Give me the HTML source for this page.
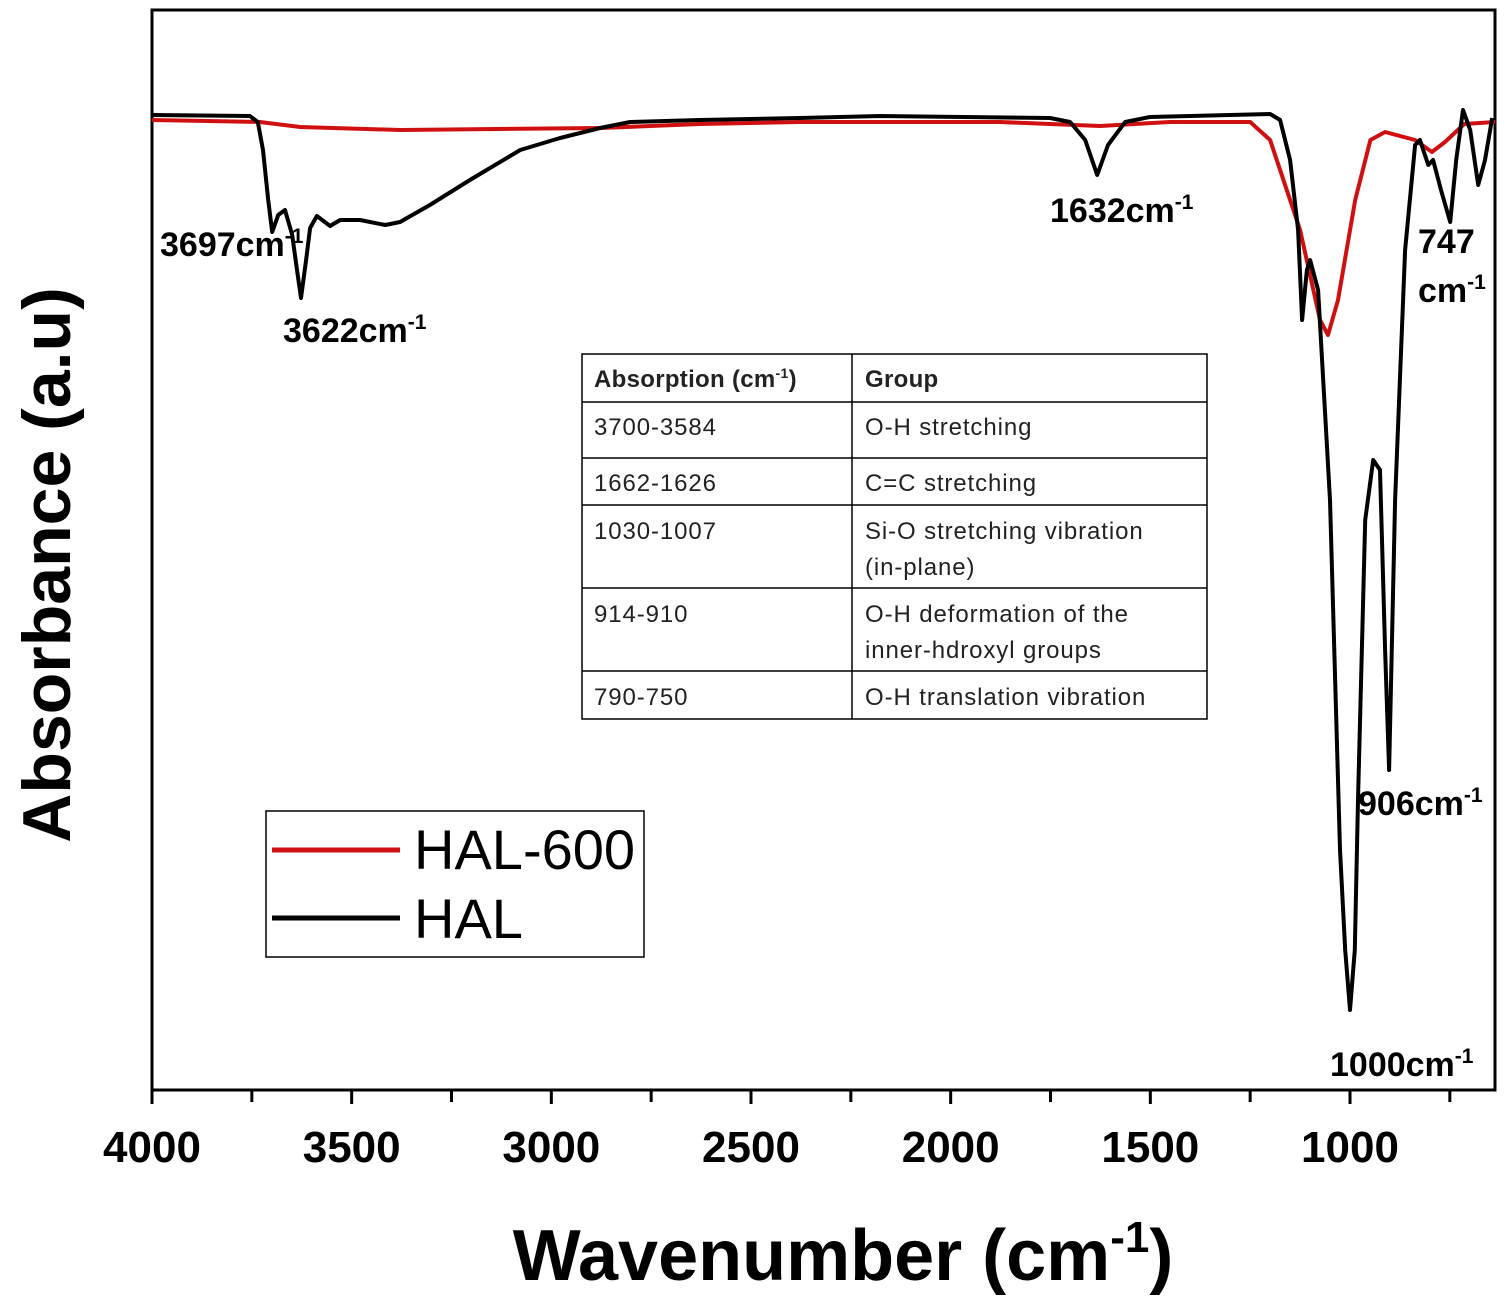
<!DOCTYPE html>
<html><head><meta charset="utf-8"><style>
body{margin:0;background:#fff;}
svg{display:block;font-family:"Liberation Sans",sans-serif;}
</style></head><body>
<svg id="chart" width="1508" height="1310" viewBox="0 0 1508 1310">
<g id="plot"></g>
</svg>
<script>
// Data (absorbance in arbitrary units)
const halWn = [4000,3755,3735,3722,3709,3699,3684,3667,3649,3637,3627,3614,3604,3587,3554,3529,3479,3416,3379,3304,3204,3078,2978,2878,2803,2628,2377,2177,1751,1701,1663,1633,1606,1563,1501,1200,1175,1150,1130,1120,1108,1100,1080,1050,1025,1012,1000,988,980,962,942,925,912,902,887,862,837,825,804,792,772,749,734,717,699,679,662,644];
const halAbs = [975,974,968,940,890,858,875,880,855,820,792,830,862,874,864,870,870,865,868,885,910,940,952,962,968,970,972,974,972,968,950,915,945,968,973,976,970,930,860,770,820,830,800,590,240,140,80,140,290,570,630,620,440,320,590,840,945,950,925,930,900,868,930,980,960,905,930,972];
const h600Wn = [4000,3730,3629,3379,2878,2628,2377,1877,1626,1450,1250,1200,1125,1075,1055,1030,987,949,912,837,795,762,714,637];
const h600Abs = [970,968,963,960,962,966,968,968,964,968,968,950,860,770,755,790,890,950,958,950,938,948,966,968];
const xTicks = [4000,3500,3000,2500,2000,1500,1000];
const minorTicks = [3750,3250,2750,2250,1750,1250,750];

const X0=152,X1=1495,Y0=1090,Y1=10;
const xs = w => X0 + (4000-w)*(1350-152)/3000;
const ys = v => Y0 - v*(Y0-Y1)/1080;
const NS="http://www.w3.org/2000/svg";
const g=document.getElementById('plot');
function mk(t,a,p){const e=document.createElementNS(NS,t);for(const k in a)e.setAttribute(k,a[k]);(p||g).appendChild(e);return e;}

const frame=mk('rect',{x:X0,y:Y1,width:X1-X0,height:Y0-Y1,fill:'none',stroke:'#000','stroke-width':3});



xTicks.forEach(t=>{
  const l=mk('line',{x1:xs(t),x2:xs(t),y1:Y0,y2:Y0+14,stroke:'#000','stroke-width':3});
  
  
  const tx=mk('text',{x:xs(t),y:1162,'text-anchor':'middle','font-size':44,'font-weight':'bold'});
  tx.textContent=t;
  
  
});
minorTicks.forEach(t=>{
  const l=mk('line',{x1:xs(t),x2:xs(t),y1:Y0,y2:Y0+12,stroke:'#000','stroke-width':3});
  
  
});

function line(wn,ab,col,name){
  const d=wn.map((w,i)=>(i?'L':'M')+xs(w).toFixed(1)+','+ys(ab[i]).toFixed(1)).join('');
  const p=mk('path',{d:d,fill:'none',stroke:col,'stroke-width':4,'stroke-linejoin':'round'});
  
  
}
line(h600Wn,h600Abs,'#d01010','hal-600-line');
line(halWn,halAbs,'#000','hal-line');
</script>
<svg width="1508" height="1310" style="position:absolute;left:0;top:0">
<g font-family="Liberation Sans, sans-serif" font-weight="bold" font-size="34" fill="#000">
<text x="160" y="256">3697cm<tspan font-size="21" dy="-13">-1</tspan></text>
<text x="283" y="342">3622cm<tspan font-size="21" dy="-13">-1</tspan></text>
<text x="1050" y="222">1632cm<tspan font-size="21" dy="-13">-1</tspan></text>
<text x="1418" y="253">747</text>
<text x="1418" y="302">cm<tspan font-size="21" dy="-13">-1</tspan></text>
<text x="1358" y="815">906cm<tspan font-size="21" dy="-13">-1</tspan></text>
<text x="1330" y="1076">1000cm<tspan font-size="21" dy="-13">-1</tspan></text>
<text x="843" y="1280" text-anchor="middle" font-size="72">Wavenumber (cm<tspan font-size="44" dy="-28">-1</tspan><tspan dy="28">)</tspan></text>
<text transform="translate(70,565) rotate(-90)" text-anchor="middle" font-size="68">Absorbance (a.u)</text>
</g>
<g>
<rect x="266" y="811" width="378" height="146" fill="#fff" stroke="#000" stroke-width="1.5"/>
<line x1="272" y1="850" x2="400" y2="850" stroke="#d01010" stroke-width="5"/>
<line x1="272" y1="918" x2="400" y2="918" stroke="#000" stroke-width="5"/>
<text x="414" y="869" font-family="Liberation Sans, sans-serif" font-size="56">HAL-600</text>
<text x="414" y="938" font-family="Liberation Sans, sans-serif" font-size="56">HAL</text>
</g>
<g font-family="Liberation Sans, sans-serif" font-size="24" letter-spacing="0.9" fill="#222" stroke-width="1.5">
<rect x="582" y="354" width="625" height="365" fill="#fff" stroke="#000"/>
<line x1="852" y1="354" x2="852" y2="719" stroke="#000"/>
<line x1="582" y1="402" x2="1207" y2="402" stroke="#000"/>
<line x1="582" y1="458" x2="1207" y2="458" stroke="#000"/>
<line x1="582" y1="505" x2="1207" y2="505" stroke="#000"/>
<line x1="582" y1="588" x2="1207" y2="588" stroke="#000"/>
<line x1="582" y1="671" x2="1207" y2="671" stroke="#000"/>
<text x="594" y="387" font-weight="bold" letter-spacing="0.3">Absorption (cm<tspan font-size="14" dy="-9">-1</tspan><tspan dy="9">)</tspan></text>
<text x="865" y="387" font-weight="bold" letter-spacing="0.3">Group</text>
<text x="594" y="435">3700-3584</text><text x="865" y="435">O-H stretching</text>
<text x="594" y="491">1662-1626</text><text x="865" y="491">C=C stretching</text>
<text x="594" y="539">1030-1007</text><text x="865" y="539">Si-O stretching vibration</text>
<text x="865" y="575">(in-plane)</text>
<text x="594" y="622">914-910</text><text x="865" y="622">O-H deformation of the</text>
<text x="865" y="658">inner-hdroxyl groups</text>
<text x="594" y="705">790-750</text><text x="865" y="705">O-H translation vibration</text>
</g>
</svg>
</body></html>
